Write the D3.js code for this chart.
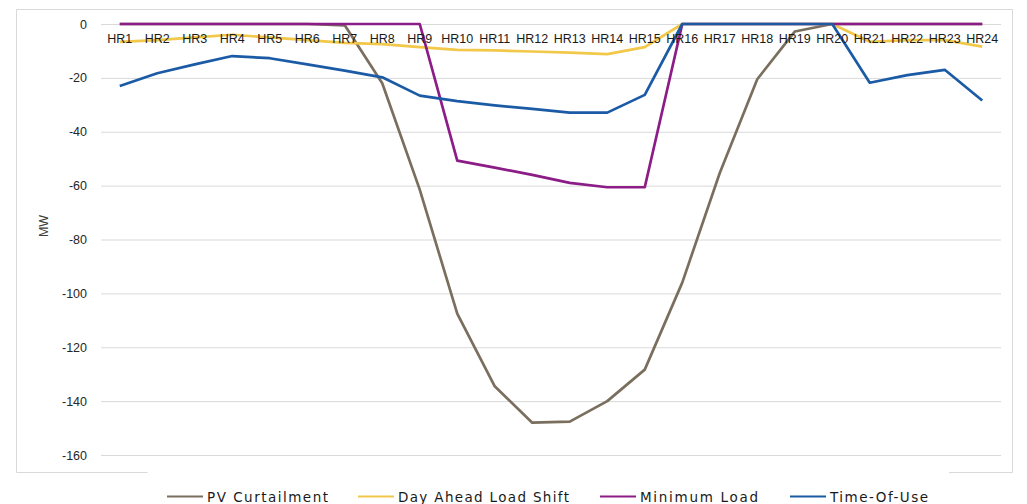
<!DOCTYPE html>
<html>
<head>
<meta charset="utf-8">
<script src="https://cdn.jsdelivr.net/npm/d3@7"></script>
<style>
  html, body { margin: 0; padding: 0; background: #fff; }
  svg { display: block; }
</style>
</head>
<body>
<svg id="chart" width="1027" height="504"></svg>
<script>
// Hourly categories
const hours = ["HR1","HR2","HR3","HR4","HR5","HR6","HR7","HR8","HR9","HR10","HR11","HR12",
               "HR13","HR14","HR15","HR16","HR17","HR18","HR19","HR20","HR21","HR22","HR23","HR24"];

// Series values (MW)
const pvCurtailment = [0, 0, 0, 0, 0, 0, -0.5, -22, -61.5, -107.5, -134.5, -148,
                       -147.6, -140, -128.3, -96, -55.3, -20.5, -2.8, 0, 0, 0, 0, 0];
const dayAheadLoadShift = [-6.6, -6, -5, -4, -5, -6, -7, -7.5, -8.6, -9.6, -9.8, -10.2,
                           -10.6, -11.2, -8.6, 0, 0, 0, 0, 0, -6.6, -6, -6, -8.4];
const minimumLoad = [0, 0, 0, 0, 0, 0, 0, 0, 0, -50.7, -53.3, -56,
                     -59, -60.6, -60.6, 0, 0, 0, 0, 0, 0, 0, 0, 0];
const timeOfUse = [-23, -18.3, -15, -11.9, -12.7, -15, -17.3, -19.8, -26.6, -28.6, -30.2, -31.5,
                   -32.9, -32.9, -26.3, 0, 0, 0, 0, 0, -21.8, -19, -17, -28.4];

const yTicks = [0, -20, -40, -60, -80, -100, -120, -140, -160];

const seriesNames = ["PV Curtailment", "Day Ahead Load Shift", "Minimum Load", "Time-Of-Use"];
const seriesValues = [pvCurtailment, dayAheadLoadShift, minimumLoad, timeOfUse];
const seriesColors = ["#7a6f5e", "#f1c84a", "#8c1c86", "#1b5ba6"];

const svg = d3.select("#chart");

const plot = { left: 101, right: 1001, top: 24, bottom: 455 };

const x = d3.scaleBand().domain(hours).range([plot.left, plot.right]);
const xc = d => x(d) + x.bandwidth() / 2;
const y = d3.scaleLinear().domain([-160, 0]).range([plot.bottom, plot.top]);

// Outer chart frame (bottom edge is broken by the legend)
const frame = svg.append("g").attr("stroke", "#d9d9d9").attr("fill", "none").attr("stroke-width", 1);
frame.append("path").attr("d", "M147.5,472.5 H16.5 V9.5 H1012.5 V472.5 H949");

// Horizontal gridlines
svg.append("g")
  .attr("transform", `translate(${plot.left},0)`)
  .call(d3.axisLeft(y).tickValues(yTicks).tickSize(-(plot.right - plot.left)).tickFormat(""))
  .call(g => g.select(".domain").remove())
  .call(g => g.selectAll(".tick line").attr("stroke", "#d9d9d9").attr("stroke-width", 1));

// Y axis labels (plain hyphen minus)
svg.append("g")
  .attr("transform", `translate(${plot.left},0)`)
  .call(d3.axisLeft(y).tickValues(yTicks).tickSize(0).tickPadding(14).tickFormat(d => String(d)))
  .call(g => g.select(".domain").remove())
  .call(g => g.selectAll("text")
      .attr("font-family", "'Liberation Sans', Arial, sans-serif")
      .attr("font-size", 12.5)
      .attr("fill", "#262626"));

// Y axis title
svg.append("text")
  .attr("transform", "translate(48,226) rotate(-90)")
  .attr("text-anchor", "middle")
  .attr("font-family", "'Liberation Sans', Arial, sans-serif")
  .attr("font-size", 12.5)
  .attr("fill", "#404040")
  .text("MW");

// Lines
const line = d3.line()
  .x((d, i) => xc(hours[i]))
  .y(d => y(d));

svg.append("g").selectAll("path")
  .data(seriesValues)
  .join("path")
  .attr("d", d => line(d))
  .attr("fill", "none")
  .attr("stroke", (d, i) => seriesColors[i])
  .attr("stroke-width", 2.7)
  .attr("stroke-linejoin", "round");

// Category labels sitting just under the zero line
svg.append("g")
  .attr("transform", `translate(0,${y(0)})`)
  .call(d3.axisBottom(x).tickSize(0).tickPadding(10))
  .call(g => g.select(".domain").remove())
  .call(g => g.selectAll("text")
      .attr("font-family", "'Liberation Sans', Arial, sans-serif")
      .attr("font-size", 12.5)
      .attr("fill", "#1a1a1a"));

// Legend
const legendItems = [
  { x: 167, w: 121 },
  { x: 358, w: 171 },
  { x: 600, w: 118 },
  { x: 790, w: 98 }
];
const legend = svg.append("g");
legendItems.forEach((it, i) => {
  legend.append("line")
    .attr("x1", it.x).attr("x2", it.x + 36)
    .attr("y1", 496.5).attr("y2", 496.5)
    .attr("stroke", seriesColors[i]).attr("stroke-width", 2);
  legend.append("text")
    .attr("x", it.x + 40).attr("y", 501.5)
    .attr("font-family", "'DejaVu Sans', Verdana, sans-serif")
    .attr("font-size", 13.5)
    .attr("fill", "#1a1a1a")
    .attr("textLength", it.w)
    .attr("lengthAdjust", "spacing")
    .text(seriesNames[i]);
});
</script>
</body>
</html>
